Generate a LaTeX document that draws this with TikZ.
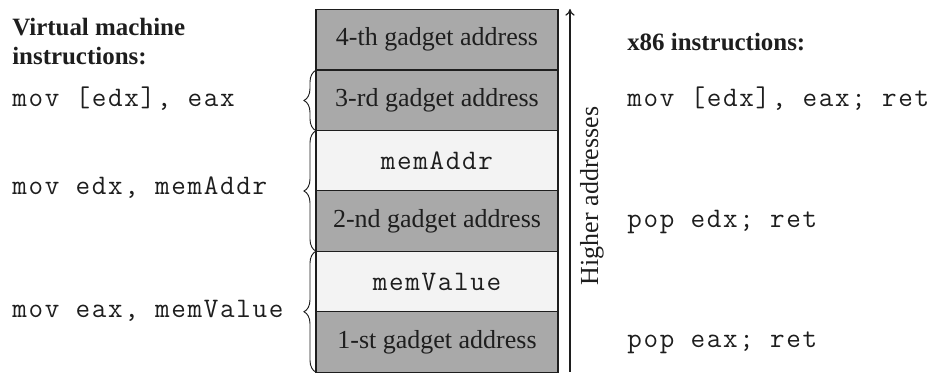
\documentclass[tikz,border=0pt]{standalone}
\usepackage{fontspec}
\setmainfont{Liberation Serif}
\setmonofont{Latin Modern Mono}[LetterSpace=6]
\usetikzlibrary{decorations.pathreplacing,arrows.meta}
\definecolor{darkcell}{HTML}{A9A9A9}
\definecolor{lightcell}{HTML}{F3F3F3}
\definecolor{ink}{HTML}{1E1E1E}
\begin{document}
\begin{tikzpicture}[x=0.75pt,y=-0.75pt,
  cell/.style={draw=ink,line width=0.9pt,minimum width=181.5pt,minimum height=45.4pt,inner sep=0pt,outer sep=0pt,font=\fontsize{19.5}{22}\selectfont,text=ink},
  dcell/.style={cell,fill=darkcell},
  lcell/.style={cell,fill=lightcell,font=\fontsize{21.2}{22}\ttfamily},
  code/.style={inner sep=0pt,font=\fontsize{21.2}{22}\ttfamily,text=ink},
  head/.style={inner sep=0pt,font=\fontsize{18.7}{21.75}\selectfont\bfseries,text=ink,align=left},
  brc/.style={decorate,decoration={brace,amplitude=9pt},line width=0.7pt,draw=ink}]
\useasboundingbox (0,0) rectangle (932,373);
% stack
\node[dcell] (g4) at (437,39.5) {4-th gadget address};
\node[dcell] (g3) at (437,100.5) {3-rd gadget address};
\node[lcell] (ma) at (437,161) {memAddr};
\node[dcell] (g2) at (437,221) {2-nd gadget address};
\node[lcell] (mv) at (437,281.5) {memValue};
\node[dcell] (g1) at (437,342) {1-st gadget address};
% arrow
\coordinate (abot) at (570,372);
\coordinate (atop) at (570,9);
\draw[line width=0.9pt,draw=ink,-{To[length=5pt,width=7pt]}] (abot) -- (atop);
\node[inner sep=0pt,rotate=90,anchor=base,font=\fontsize{19.5}{22}\selectfont,text=ink] (hl) at (598,196) {Higher addresses};
% braces
\draw[brc] (g3.south west) -- (g3.north west);
\draw[brc] (g2.south west) -- (ma.north west);
\draw[brc] (g1.south west) -- (mv.north west);
% left column
\node[head,anchor=base west] (vh) at (12,65) {Virtual machine\\instructions:};
\node[code,anchor=base west] (v1) at (12,107) {mov [edx], eax};
\node[code,anchor=base west] (v2) at (12,195) {mov edx, memAddr};
\node[code,anchor=base west] (v3) at (12,318) {mov eax, memValue};
% right column
\node[head,anchor=base west] (xh) at (627,51) {x86 instructions:};
\node[code,anchor=base west] (x1) at (627,107) {mov [edx], eax; ret};
\node[code,anchor=base west] (x2) at (627,228) {pop edx; ret};
\node[code,anchor=base west] (x3) at (627,348) {pop eax; ret};
\end{tikzpicture}
\end{document}
